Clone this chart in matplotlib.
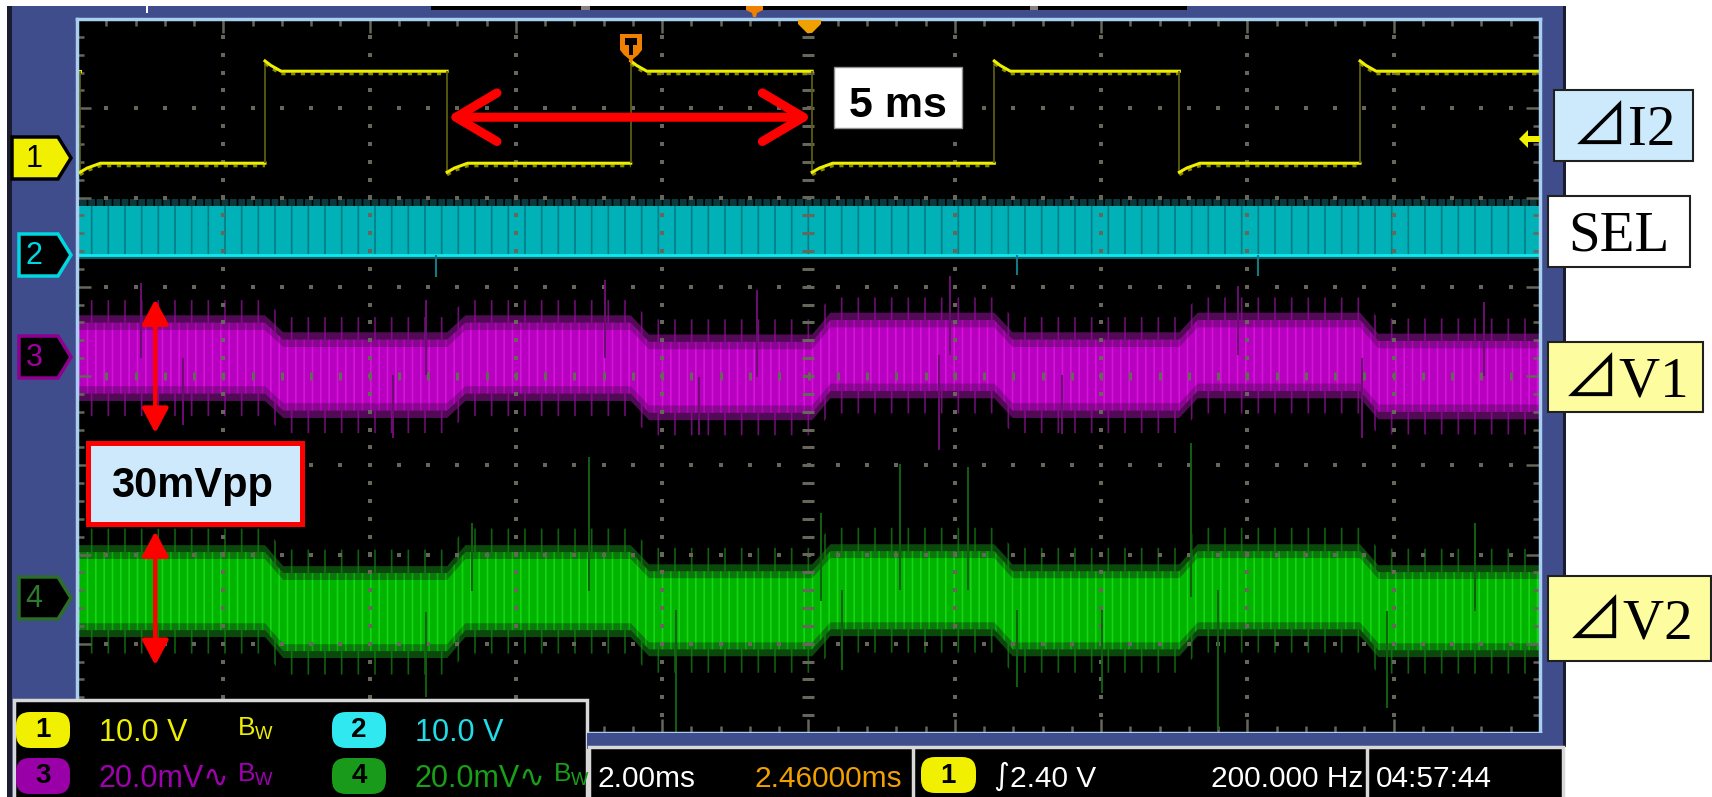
import numpy as np
import matplotlib.pyplot as plt
from matplotlib.patches import Rectangle, Polygon, FancyBboxPatch

plt.rcParams['hatch.linewidth'] = 1.2
plt.rcParams['mathtext.fontset'] = 'custom'
plt.rcParams['mathtext.rm'] = 'Liberation Sans'

W, H = 1712, 797
narrow = ['Liberation Sans', 'DejaVu Sans']
bold = ['Liberation Sans', 'DejaVu Sans']
serif = ['Liberation Serif', 'Noto Sans CJK JP', 'DejaVu Sans']

# ---------------- values ----------------
t_span = 20.0                            # ms, 2.00 ms/div x 10 div
ch_scale = [10.0, 10.0, 20.0, 20.0]      # per div: ch1/ch2 in V, ch3/ch4 in mV
ch_ground = [2.44, 1.36, 0.21, -2.49]    # ground marker, div from screen centre

ch1_edges = [0.04, 2.57, 5.06, 7.57, 10.05, 12.54, 15.07, 17.54]  # ms, first edge falls
ch1_high = 9.75                                                     # V
ch1_rise = [(0.0, 10.9), (0.08, 10.4), (0.22, 9.75)]                # (ms after edge, V)
ch1_fall = [(0.0, -1.57), (0.10, -1.1), (0.28, -0.56)]

ch2_low, ch2_high, ch2_top = 0.0, 5.4, 6.2                          # V
ch2_spike_t = [4.91, 12.85, 16.15]
ch2_spike_v = [-2.5, -2.3, -2.4]

ch3_mid = [-0.2, -4.0, -0.2, -4.5, 0.4, -4.0, 0.4, -4.3]            # mV per half period
ch3_core, ch3_fringe, ch3_fuzz = 6.3, 9.6, 13.0
ch3_spike_t = [0.87, 4.77, 7.22, 9.30, 11.93, 15.87, 19.23, 1.45, 4.32, 8.50, 11.78, 13.47, 17.57]
ch3_spike_v = [16.6, 12.8, 17.3, 15.0, 18.2, 15.9, 12.3, -15.2, -18.2, -17.5, -20.8, -17.3, -18.2]

ch4_mid = [1.6, -3.1, 1.6, -2.7, 1.8, -2.7, 1.8, -2.9]
ch4_core, ch4_fringe, ch4_fuzz = 7.2, 10.3, 14.0
ch4_spike_t = [5.4, 7.0, 10.17, 11.25, 12.18, 15.23, 19.11, 4.77, 8.19, 10.46, 12.85, 14.01, 15.6, 17.91]
ch4_spike_v = [16.8, 31.6, 19.0, 30.0, 29.4, 34.7, 16.8, -22.2, -30.3, -16.1, -19.9, -21.3, -29.6, -24.6]

vpp = 30.0                 # mV, marked on ch3 and ch4
ch3_vpp_mid, ch4_vpp_mid = -2.0, 0.0
vpp_t = 1.07               # ms

ch_names = ['1', '2', '3', '4']
ch_volts = ['10.0 V', '10.0 V', '20.0mV∿', '20.0mV∿']
ch_bw = [True, False, True, True]
timebase, trig_pos = '2.00ms', '2.46000ms'
trig_level, trig_freq, clock = '2.40 V', '200.000 Hz', '04:57:44'
labels = ['⊿I2', 'SEL', '⊿V1', '⊿V2']

# colours
blue = '#3f4d8c'
yel = '#eeee00'
cyan = '#20dde8'
mag = '#a000b0'
grn = '#18a018'
gc = '#66665a'


def dv(v, ch):
    return np.asarray(v, dtype=float) / ch_scale[ch] + ch_ground[ch]


fig = plt.figure(figsize=(W / 100, H / 100), dpi=100)
fig.patch.set_facecolor('white')

bg = fig.add_axes([0, 0, 1, 1], zorder=0)
bg.set_xlim(0, W)
bg.set_ylim(H, 0)
bg.axis('off')

scr = fig.add_axes([77 / W, 1 - 733 / H, 1463 / W, 714 / H], zorder=1)
ov = fig.add_axes([0, 0, 1, 1], zorder=2)
ov.set_xlim(0, W)
ov.set_ylim(H, 0)
ov.axis('off')

# ---------------- scope frame ----------------
bg.add_patch(Rectangle((12, 6), 1551, 800, fc=blue, ec='none'))
bg.add_patch(Rectangle((7, 6), 5, 800, fc='#1c1c30', ec='none'))
bg.add_patch(Rectangle((1563, 6), 3, 741, fc='#1c1c30', ec='none'))
bg.add_patch(Rectangle((431, 6), 756, 4, fc='black', ec='none'))
bg.add_patch(Rectangle((581, 6), 9, 4, fc='#8a7f80', ec='none'))
bg.add_patch(Rectangle((1030, 6), 8, 4, fc='#8a7f80', ec='none'))
bg.add_patch(Rectangle((146, 4), 2, 9, fc='white', ec='none'))

marker_y = [158, 255, 357, 598]
marker_fc = ['#f0f000', 'black', 'black', 'black']
marker_ec = ['black', '#00d8e0', '#900090', '#2a6e2a']
marker_tc = ['black', '#00d8e0', '#a000a0', '#2e7a2e']
for k in range(4):
    y = marker_y[k]
    x0 = 12 if k == 0 else 19
    bg.add_patch(Polygon([(x0, y - 21), (58, y - 21), (71, y), (58, y + 21), (x0, y + 21)],
                         fc=marker_fc[k], ec=marker_ec[k], lw=2.5))
    bg.text(34, y + 1, ch_names[k], color=marker_tc[k], fontsize=22, family=narrow,
            ha='center', va='center')

# ---------------- screen ----------------
scr.set_facecolor('black')
scr.set_xlim(0, t_span)
scr.set_ylim(-4, 4)
minor_x = np.arange(0.4, t_span, 0.4)
minor_y = np.arange(-3.8, 3.9, 0.2)
scr.set_xticks(np.arange(0, t_span + 0.1, 2))
scr.set_xticks(minor_x, minor=True)
scr.set_yticks(np.arange(-4, 5, 1))
scr.set_yticks(minor_y, minor=True)
scr.tick_params(which='both', direction='in', top=True, right=True, labelbottom=False,
                labelleft=False, color=gc, width=1.8)
scr.tick_params(which='major', length=10)
scr.tick_params(which='minor', length=5)
for s in scr.spines.values():
    s.set_color('#a8cff0')
    s.set_linewidth(2.5)

for gx in np.arange(2, t_span, 2):
    if gx == 10:
        scr.plot(np.full_like(minor_y, gx), minor_y, ls='none', marker='_', ms=8, mew=2.2, color=gc)
    else:
        scr.plot(np.full_like(minor_y, gx), minor_y, ls='none', marker='s', ms=2.4, color=gc, mew=0)
for gy in range(-3, 4):
    if gy == 0:
        scr.plot(minor_x, np.zeros_like(minor_x), ls='none', marker='|', ms=6, mew=2.2, color=gc)
    else:
        scr.plot(minor_x, np.full_like(minor_x, gy), ls='none', marker='s', ms=2.4, color=gc, mew=0)

# ch2: switching band
scr.fill_between([0, t_span], dv(ch2_high, 1), dv(ch2_top, 1), facecolor='#0a3a3e',
                 edgecolor='black', hatch='||', lw=0)
scr.fill_between([0, t_span], dv(ch2_low, 1), dv(ch2_high, 1), facecolor='#00b2b8',
                 edgecolor='#007c84', hatch='|', lw=0)
scr.fill_between([0, t_span], dv(ch2_low - 0.45, 1), dv(ch2_low, 1), facecolor='#0a6068', lw=0)
scr.hlines(dv(ch2_low, 1), 0, t_span, color='#10e8f0', lw=2)
scr.vlines(ch2_spike_t, dv(ch2_low, 1), dv(ch2_spike_v, 1), color='#127a80', lw=1.5)

# ch3 / ch4: noise bands following the ch1 half periods
seg_bounds = [0.0] + ch1_edges[1:] + [t_span]


def band(mid, core, fringe, fuzz, ch, c_fuzz, c_fringe, c_mid, c_core, c_hatch, sp_t, sp_v):
    tt, mm = [], []
    for k, m in enumerate(mid):
        tt += [seg_bounds[k] + (0.25 if k else 0.0), seg_bounds[k + 1]]
        mm += [m, m]
    tt, mm = np.array(tt), np.array(mm)
    base = np.interp(sp_t, tt, mm)
    scr.vlines(sp_t, dv(base, ch), dv(sp_v, ch), color=c_fuzz, lw=1.4)
    half = (core + fringe) / 2
    scr.fill_between(tt, dv(mm - fuzz, ch), dv(mm + fuzz, ch), facecolor='none',
                     edgecolor=c_fuzz, hatch='|', lw=0)
    scr.fill_between(tt, dv(mm - fringe, ch), dv(mm + fringe, ch), facecolor=c_fringe,
                     edgecolor=c_mid, hatch='|', lw=0)
    scr.fill_between(tt, dv(mm - half, ch), dv(mm + half, ch), facecolor=c_mid,
                     edgecolor=c_core, hatch='||', lw=0)
    scr.fill_between(tt, dv(mm - core, ch), dv(mm + core, ch), facecolor=c_core,
                     edgecolor=c_hatch, hatch='||', lw=0)


band(ch3_mid, ch3_core, ch3_fringe, ch3_fuzz, 2, '#6c0e72', '#520a56', '#86088c', '#b800c0',
     '#d414d6', ch3_spike_t, ch3_spike_v)
band(ch4_mid, ch4_core, ch4_fringe, ch4_fuzz, 3, '#106010', '#0b480b', '#0e760e', '#00b400',
     '#16d616', ch4_spike_t, ch4_spike_v)

# ch1: square wave
prev = ch1_high
scr.plot([0, ch1_edges[0]], dv([ch1_high] * 2, 0), color=yel, lw=2.2)
for i, e in enumerate(ch1_edges):
    shape = ch1_rise if i % 2 else ch1_fall
    end = ch1_edges[i + 1] if i + 1 < len(ch1_edges) else t_span
    ts = [e + dt for dt, _ in shape] + [end]
    vs = [v for _, v in shape] + [shape[-1][1]]
    scr.vlines(e, dv(prev, 0), dv(vs[0], 0), color='#5c5c12', lw=1.3)
    scr.plot(ts, dv(vs, 0) - 0.03, color='#8a8a00', lw=2.0, ls=(0, (1.5, 2)))
    scr.plot(ts, dv(vs, 0), color=yel, lw=2.2)
    prev = vs[-1]

# annotations
y_arrow = (dv(ch1_high, 0) + dv(ch1_fall[-1][1], 0)) / 2
scr.annotate('', xy=(ch1_edges[4], y_arrow), xytext=(ch1_edges[2], y_arrow),
             arrowprops=dict(arrowstyle='<->,head_length=2.95,head_width=1.75', color='red',
                             lw=6.5, mutation_scale=10, shrinkA=0, shrinkB=0,
                             capstyle='round', joinstyle='round'))
for ch, m in [(2, ch3_vpp_mid), (3, ch4_vpp_mid)]:
    scr.annotate('', xy=(vpp_t, dv(m + vpp / 2, ch)), xytext=(vpp_t, dv(m - vpp / 2, ch)),
                 arrowprops=dict(arrowstyle='<|-|>,head_length=1.5,head_width=0.8', color='red',
                                 lw=3.2, mutation_scale=10, shrinkA=0, shrinkB=0))

# ---------------- overlay: markers, readouts, labels ----------------
ov.add_patch(Polygon([(746, 6), (763, 6), (763, 10), (757, 13), (756, 17), (753, 17),
                      (752, 13), (746, 10)], fc='#f08000', ec='none'))
ov.add_patch(Polygon([(798, 20), (821, 20), (821, 24), (812, 33), (807, 33), (798, 24)],
                     fc='#f0a000', ec='none'))
ov.add_patch(Polygon([(620, 34), (642, 34), (642, 50), (638, 55), (633, 59), (632, 63),
                      (630, 63), (629, 59), (624, 55), (620, 50)], fc='#f08000', ec='none'))
ov.add_patch(Polygon([(625, 38), (637, 38), (637, 45), (633, 45), (633, 55), (629, 55),
                      (629, 45), (625, 45)], fc='black', ec='none'))
ov.add_patch(Polygon([(1519, 139), (1528, 130), (1528, 136), (1540, 136), (1540, 142),
                      (1528, 142), (1528, 148)], fc='#f0f000', ec='none'))

ov.add_patch(Rectangle((834, 67), 128, 61, fc='white', ec='#909090', lw=1))
ov.text(898, 117, '5 ms', fontsize=31, family=bold, weight='bold', ha='center', va='baseline')
ov.add_patch(Rectangle((88, 443), 214, 81, fc='#cde9fb', ec='red', lw=3.6))
ov.text(192, 497, '%dmVpp' % vpp, fontsize=30, family=bold, weight='bold', ha='center',
        va='baseline')

lab_box = [(1554, 90, 139, 71), (1548, 196, 142, 71), (1548, 342, 155, 70), (1548, 576, 163, 85)]
lab_fc = ['#cdeafc', 'white', '#fdfd9f', '#fdfd9f']
lab_base = [145, 250, 397, 639]
for k, s in enumerate(labels):
    x, y, w, h = lab_box[k]
    ov.add_patch(Rectangle((x, y), w, h, fc=lab_fc[k], ec='#202020', lw=1.5))
    ov.text(x + w / 2, lab_base[k], s, fontsize=41, family=serif, ha='center', va='baseline')

# channel readout box
ov.add_patch(Rectangle((14, 700), 573, 110, fc='black', ec='#d8d8d8', lw=2.5))
badge_fc = ['#f0f000', '#30e8f0', '#9a00a8', '#1a9a1a']
text_c = [yel, cyan, mag, grn]
for k in range(4):
    cx = 99 if k in (0, 2) else 415
    base = 741 if k < 2 else 787
    ov.add_patch(FancyBboxPatch((cx - 83, base - 29), 54, 36,
                                boxstyle='round,pad=0,rounding_size=14', fc=badge_fc[k], ec='none'))
    ov.text(cx - 56, base - 11, ch_names[k], fontsize=20, family=narrow, weight='bold',
            ha='center', va='center')
    ov.text(cx, base, ch_volts[k], color=text_c[k], fontsize=22, family=narrow, va='baseline')
    if ch_bw[k]:
        ov.text(cx + 138, base - 6, r'B$_{\mathregular{W}}$', color=text_c[k], fontsize=19,
                family=narrow, va='baseline')

# bottom status bar
ov.add_patch(Rectangle((587, 733), 976, 16, fc=blue, ec='none'))
ov.add_patch(Rectangle((589, 747), 974, 60, fc='black', ec='#d8d8d8', lw=2.5))
ov.vlines([913, 1367], 747, 797, color='#d8d8d8', lw=2.5)
ov.text(598, 787, timebase, color='white', fontsize=21.5, family=narrow, va='baseline')
ov.text(902, 787, trig_pos, color='#f0a000', fontsize=21.5, family=narrow, ha='right',
        va='baseline')
ov.add_patch(FancyBboxPatch((921, 757), 55, 36, boxstyle='round,pad=0,rounding_size=14',
                            fc='#f0f000', ec='none'))
ov.text(948, 776, '1', fontsize=20, family=narrow, weight='bold', ha='center', va='center')
ov.text(993, 785, '∫', color='white', fontsize=22, family=['DejaVu Sans'], va='baseline')
ov.text(1010, 787, trig_level, color='white', fontsize=21.5, family=narrow, va='baseline')
ov.text(1363, 787, trig_freq, color='white', fontsize=21.5, family=narrow, ha='right',
        va='baseline')
ov.text(1376, 787, clock, color='white', fontsize=21.5, family=narrow, va='baseline')

fig.savefig('out.png', dpi=100)
